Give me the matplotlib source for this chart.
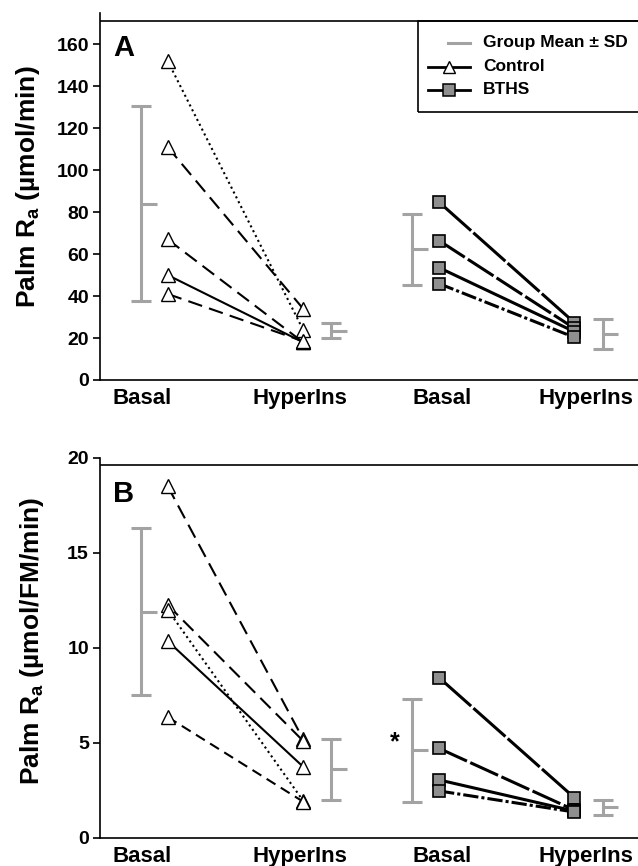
import matplotlib
matplotlib.use("Agg")
import matplotlib.pyplot as plt
from matplotlib.patches import Rectangle

plt.rcParams['font.family'] = ['Liberation Sans', 'DejaVu Sans']
plt.rcParams['font.weight'] = 'bold'
plt.rcParams['mathtext.fontset'] = 'custom'
plt.rcParams['mathtext.rm'] = 'Liberation Sans:bold'
plt.rcParams['mathtext.bf'] = 'Liberation Sans:bold'
plt.rcParams['mathtext.it'] = 'Liberation Sans:bold'

# ---------------- data ----------------
conditions = ["Basal", "HyperIns", "Basal", "HyperIns"]
groups = ["Control", "BTHS"]

# Panel A: Palm Ra (umol/min)
ctrl_basal_A = [152, 111, 67, 50, 41]
ctrl_hyper_A = [24, 34, 18, 18, 18.5]
bths_basal_A = [84.7, 66.4, 53.5, 45.9]
bths_hyper_A = [27.3, 24.6, 23.0, 20.3]
ctrl_mean_A = [84, 23.5]
ctrl_sd_A = [46.4, 3.5]
bths_mean_A = [62.4, 22.0]
bths_sd_A = [16.9, 7.0]

# Panel B: Palm Ra (umol/FM/min)
ctrl_basal_B = [18.5, 12.25, 12.0, 10.35, 6.35]
ctrl_hyper_B = [5.2, 5.1, 1.95, 3.74, 1.9]
bths_basal_B = [8.42, 4.7, 3.04, 2.46]
bths_hyper_B = [2.1, 1.45, 1.4, 1.35]
ctrl_mean_B = [11.9, 3.6]
ctrl_sd_B = [4.4, 1.6]
bths_mean_B = [4.6, 1.6]
bths_sd_B = [2.7, 0.4]

# ---------------- styles / layout ----------------
ctrl_styles_A = [(0, (1, 1.6)), (0, (7, 3.5)), (0, (7, 3.5)), '-', (0, (7, 3.5))]
ctrl_styles_B = [(0, (7, 3.5)), (0, (7, 3.5)), (0, (1, 1.6)), '-', (0, (5, 3))]
bths_styles = [(0, (14, 1)), (0, (10, 1.2)), '-', (0, (5, 1, 1, 1))]

tick_pos = [0.292, 1.389, 2.375, 3.375]
ctrl_x = [0.47, 1.41]
bths_x = [2.355, 3.295]
ctrl_err_x = [0.288, 1.605]
bths_err_x = [2.17, 3.49]
XMAX = 538 / 144.0

GRAY = '#a3a3a3'
SQ_FILL = '#8f8f8f'

fig = plt.figure(figsize=(6.38, 8.66), dpi=100)
axA = fig.add_axes([100 / 638, 1 - 380 / 866, 1 - 100 / 638, (380 - 12.7) / 866])
axB = fig.add_axes([100 / 638, 1 - 837.7 / 866, 1 - 100 / 638, (837.7 - 457.7) / 866])


def draw_panel(ax, cb, ch, bb, bh, cm, csd, bm, bsd, cstyles, ylim, topline, yticks,
               ylabel, label_xy, letter, letter_y):
    for i in range(len(cb)):
        ax.plot(ctrl_x, [cb[i], ch[i]], color='black', lw=1.5, ls=cstyles[i],
                marker='^', ms=10, mfc='white', mec='black', mew=1.0, zorder=3)
    for i in range(len(bb)):
        ax.plot(bths_x, [bb[i], bh[i]], color='black', lw=2.2, ls=bths_styles[i],
                marker='s', ms=8.5, mfc=SQ_FILL, mec='black', mew=1.2, zorder=3)
    for xs, m, s in ((ctrl_err_x, cm, csd), (bths_err_x, bm, bsd)):
        ax.errorbar(xs, m, yerr=s, fmt='none', ecolor=GRAY, elinewidth=2.2,
                    capsize=7.5, capthick=2.2, zorder=2)
        for j in range(2):
            ax.plot([xs[j], xs[j] + 0.11], [m[j], m[j]], color=GRAY, lw=2.2,
                    solid_capstyle='butt', zorder=2)
    ax.set_xlim(0, XMAX)
    ax.set_ylim(*ylim)
    ax.axhline(topline, color='black', lw=1.2, zorder=1)
    ax.set_yticks(yticks)
    ax.set_xticks(tick_pos)
    ax.set_xticklabels(conditions, fontsize=16, fontweight='bold')
    ax.tick_params(axis='x', length=0, pad=6)
    ax.tick_params(axis='y', length=5, width=1.2, pad=3, labelsize=14)
    for lab in ax.get_yticklabels():
        lab.set_fontweight('bold')
    ax.spines['right'].set_visible(False)
    ax.spines['top'].set_visible(False)
    ax.spines['left'].set_linewidth(1.2)
    ax.spines['bottom'].set_linewidth(1.2)
    ax.set_ylabel(ylabel, fontsize=19, fontweight='bold')
    ax.yaxis.set_label_coords(*label_xy)
    ax.text(0.09, letter_y, letter, fontsize=21, fontweight='bold', va='center', ha='left')


draw_panel(axA, ctrl_basal_A, ctrl_hyper_A, bths_basal_A, bths_hyper_A,
           ctrl_mean_A, ctrl_sd_A, bths_mean_A, bths_sd_A, ctrl_styles_A,
           (0, 175), 171, [0, 20, 40, 60, 80, 100, 120, 140, 160],
           r'Palm R$_{\mathregular{a}}$ (µmol/min)', (-0.108, 0.525), 'A', 158)
draw_panel(axB, ctrl_basal_B, ctrl_hyper_B, bths_basal_B, bths_hyper_B,
           ctrl_mean_B, ctrl_sd_B, bths_mean_B, bths_sd_B, ctrl_styles_B,
           (0, 20), 19.6, [0, 5, 10, 15, 20],
           r'Palm R$_{\mathregular{a}}$ (µmol/FM/min)', (-0.10, 0.518), 'B', 18.1)

# significance marker
axB.text(2.05, 5.0, '*', fontsize=18, fontweight='bold', ha='center', va='center')

# legend (panel A)
tA = axA.transAxes
axA.add_patch(Rectangle((0.591, 0.730), 0.409 + 0.01, 0.977 - 0.730, transform=tA,
                        fill=False, ec='black', lw=1.2, clip_on=False))
rows = [0.918, 0.853, 0.790]
axA.plot([0.647, 0.688], [rows[0]] * 2, color=GRAY, lw=2.2, transform=tA, clip_on=False)
axA.plot([0.610, 0.688], [rows[1]] * 2, color='black', lw=2.0, transform=tA, clip_on=False)
axA.plot([0.649], [rows[1]], marker='^', ms=9, mfc='white', mec='black', mew=1.0,
         transform=tA, clip_on=False)
axA.plot([0.610, 0.688], [rows[2]] * 2, color='black', lw=2.0, transform=tA, clip_on=False)
axA.plot([0.649], [rows[2]], marker='s', ms=8, mfc=SQ_FILL, mec='black', mew=1.1,
         transform=tA, clip_on=False)
for y, lab in zip(rows, ['Group Mean ± SD', 'Control', 'BTHS']):
    axA.text(0.712, y, lab, transform=tA, fontsize=12.5, fontweight='bold', va='center', ha='left')

fig.savefig('out.png', dpi=100)
